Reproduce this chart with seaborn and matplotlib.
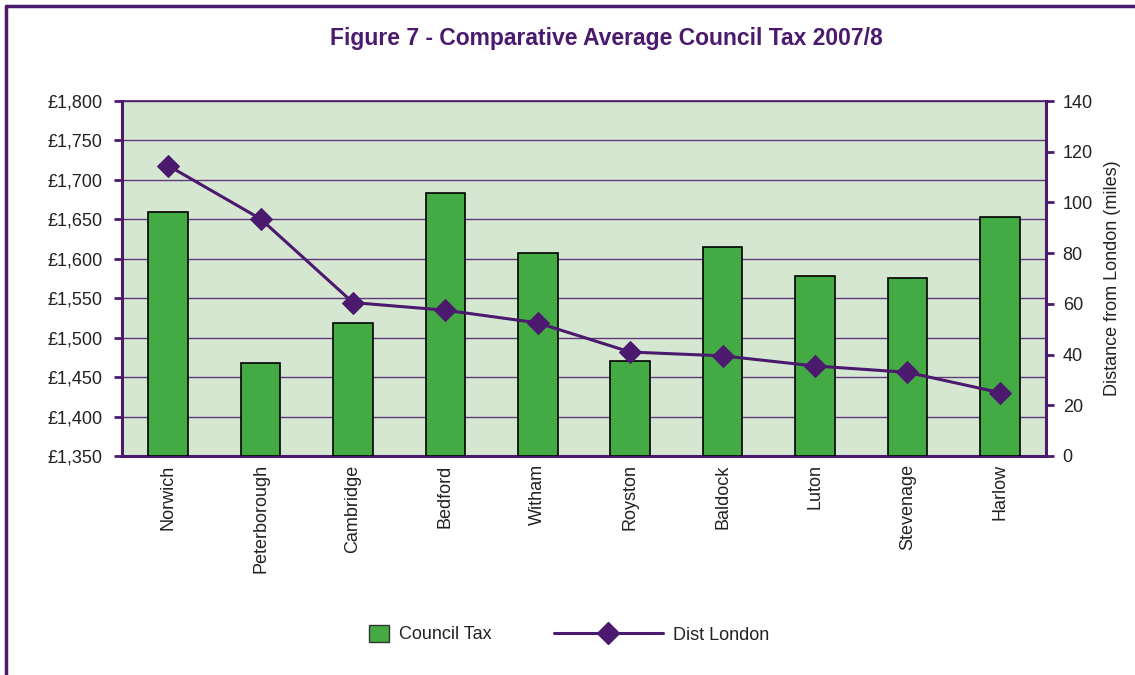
import numpy as np
import pandas as pd
import matplotlib
matplotlib.use("Agg")
import matplotlib.pyplot as plt
from matplotlib.lines import Line2D
from matplotlib.patches import Patch
from matplotlib.ticker import FuncFormatter, MultipleLocator
import seaborn as sns

towns = ["Norwich", "Peterborough", "Cambridge", "Bedford", "Witham",
         "Royston", "Baldock", "Luton", "Stevenage", "Harlow"]
council_tax = [1659, 1468, 1519, 1683, 1607, 1471, 1615, 1578, 1576, 1653]
dist_london = [114.5, 93.5, 60.5, 57.5, 52.5, 41.0, 39.5, 35.5, 33.0, 25.0]

PURPLE = "#4B1A6E"
GREEN = "#43AA44"
PANEL = "#D6E7D1"
TEXT = "#222222"
FS = 13

sns.set_theme(style="white")
plt.rcParams["font.family"] = ["Liberation Sans", "DejaVu Sans"]

df = pd.DataFrame({"town": towns, "tax": council_tax, "dist": dist_london})

fig = plt.figure(figsize=(11.35, 6.75), dpi=100)
ax = fig.add_axes([122 / 1135, 1 - 456 / 675, (1046 - 122) / 1135, (456 - 101) / 675])
ax.set_facecolor(PANEL)

sns.barplot(data=df, x="town", y="tax", order=towns, color=GREEN, saturation=1,
            width=0.43, edgecolor="black", linewidth=1.2, ax=ax, zorder=3)
# bars start from the bottom of the axis range
for p in ax.patches:
    p.set_y(1350)
    p.set_height(p.get_height() - 1350)

ax.set_ylim(1350, 1800)
ax.set_xlim(-0.5, len(towns) - 0.5)
ax.yaxis.set_major_locator(MultipleLocator(50))
ax.yaxis.set_major_formatter(FuncFormatter(lambda v, _: f"£{v:,.0f}"))
ax.grid(axis="y", color=PURPLE, linewidth=1.0, alpha=0.85, zorder=1)
ax.set_axisbelow(True)
ax.set_xlabel("")
ax.set_ylabel("")

# category ticks sit between the bars
ax.set_xticks(np.arange(len(towns)))
ax.set_xticklabels(towns, rotation=90, fontsize=FS, color=TEXT)
ax.tick_params(axis="x", length=0, pad=6)
ax.set_xticks(np.arange(len(towns) + 1) - 0.5, minor=True)
ax.tick_params(axis="x", which="minor", length=6, width=2, color=PURPLE, direction="out")
ax.tick_params(axis="y", length=6, width=2, color=PURPLE, direction="out",
               labelsize=FS, labelcolor=TEXT, pad=8, left=True)

for s in ax.spines.values():
    s.set_visible(False)
ax.spines["left"].set_visible(True)
ax.spines["left"].set_color(PURPLE)
ax.spines["left"].set_linewidth(2.2)
ax.spines["bottom"].set_visible(True)
ax.spines["bottom"].set_color(PURPLE)
ax.spines["bottom"].set_linewidth(2.2)
ax.spines["top"].set_visible(True)
ax.spines["top"].set_color(PURPLE)
ax.spines["top"].set_linewidth(1.2)

ax2 = ax.twinx()
df["pos"] = np.arange(len(towns))
sns.lineplot(data=df, x="pos", y="dist", color=PURPLE, linewidth=2.2, marker="D",
             markersize=11, markeredgecolor=PURPLE, ax=ax2, zorder=5)
ax2.set_ylim(0, 140)
ax2.set_xlim(-0.5, len(towns) - 0.5)
ax2.yaxis.set_major_locator(MultipleLocator(20))
ax2.set_ylabel("Distance from London (miles)", fontsize=FS, color=TEXT, labelpad=8)
ax2.tick_params(axis="y", length=6, width=2, color=PURPLE, direction="out",
                labelsize=FS, labelcolor=TEXT, pad=6, right=True)
ax2.grid(False)
for s in ax2.spines.values():
    s.set_visible(False)
ax2.spines["right"].set_visible(True)
ax2.spines["right"].set_color(PURPLE)
ax2.spines["right"].set_linewidth(2.2)

fig.text(606 / 1135, 1 - 38 / 675, "Figure 7 - Comparative Average Council Tax 2007/8",
         ha="center", va="center", fontsize=16.5, fontweight="bold", color=PURPLE)

# two legend entries, each with its own handle size
bar_handle = Patch(facecolor=GREEN, edgecolor="#333333", linewidth=1.0, label="Council Tax")
line_handle = Line2D([0], [0], color=PURPLE, linewidth=2.2, marker="D", markersize=11,
                     label="Dist London")
leg1 = fig.legend(handles=[bar_handle], loc="center left",
                  bbox_to_anchor=(353 / 1135, 1 - 634 / 675), frameon=False, fontsize=FS,
                  handlelength=1.1, handleheight=1.1, handletextpad=0.55, labelcolor=TEXT)
leg2 = fig.legend(handles=[line_handle], loc="center left",
                  bbox_to_anchor=(538 / 1135, 1 - 635 / 675), frameon=False, fontsize=FS,
                  handlelength=6.0, handletextpad=0.55, labelcolor=TEXT)

# outer frame of the figure panel
fig.add_artist(Line2D([6 / 1135, 6 / 1135], [0, 1 - 6 / 675], transform=fig.transFigure,
                      color=PURPLE, linewidth=2.5))
fig.add_artist(Line2D([6 / 1135, 1], [1 - 6 / 675, 1 - 6 / 675], transform=fig.transFigure,
                      color=PURPLE, linewidth=2.5))

fig.savefig("out.png", dpi=100, facecolor="white")
